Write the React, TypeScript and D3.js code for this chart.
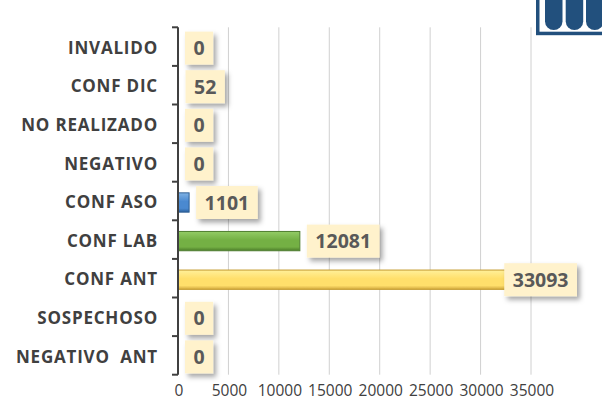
import React, { useRef, useEffect } from "react";
import * as d3 from "d3";

const categories = [
  "INVALIDO",
  "CONF DIC",
  "NO REALIZADO",
  "NEGATIVO",
  "CONF ASO",
  "CONF LAB",
  "CONF ANT",
  "SOSPECHOSO",
  "NEGATIVO  ANT",
];
const values = [0, 52, 0, 0, 1101, 12081, 33093, 0, 0];
const xTicks = [0, 5000, 10000, 15000, 20000, 25000, 30000, 35000];

// bar fills: [top, middle, bottom, edge]
const barColors = {
  "CONF DIC": ["#c9d6e3", "#9fb4c8", "#6f879e", "#6f879e"],
  "CONF ASO": ["#7fb2e5", "#4a89d0", "#2b619e", "#2e5f94"],
  "CONF LAB": ["#93cc66", "#74b044", "#4c7c2a", "#4f7e30"],
  "CONF ANT": ["#fff09a", "#ffdf6b", "#d2a93e", "#c49a2c"],
};

const App = () => {
  const svgRef = useRef<SVGSVGElement>(null);

  useEffect(() => {
    const width = 602;
    const height = 401;
    const plotTop = 27.3;
    const plotBottom = 374.7;

    const svg = d3.select(svgRef.current);
    svg.selectAll("*").remove();
    svg.attr("width", width).attr("height", height);

    const xScale = d3.scaleLinear().domain([0, 35000]).range([178, 531]);
    const yScale = d3
      .scaleBand()
      .domain(categories)
      .range([plotTop, plotBottom])
      .paddingInner(0.5)
      .paddingOuter(0.25);
    const step = yScale.step();

    const defs = svg.append("defs");
    const shadow = defs
      .append("filter")
      .attr("id", "shadow")
      .attr("x", "-30%")
      .attr("y", "-30%")
      .attr("width", "170%")
      .attr("height", "170%");
    shadow
      .append("feDropShadow")
      .attr("dx", 3)
      .attr("dy", 3.5)
      .attr("stdDeviation", 2.5)
      .attr("flood-color", "#000")
      .attr("flood-opacity", 0.35);

    Object.entries(barColors).forEach(([key, c], i) => {
      const g = defs
        .append("linearGradient")
        .attr("id", "grad" + i)
        .attr("x1", 0)
        .attr("y1", 0)
        .attr("x2", 0)
        .attr("y2", 1);
      g.append("stop").attr("offset", "0%").attr("stop-color", c[0]);
      g.append("stop").attr("offset", "45%").attr("stop-color", c[1]);
      g.append("stop").attr("offset", "80%").attr("stop-color", c[1]);
      g.append("stop").attr("offset", "100%").attr("stop-color", c[2]);
    });
    const gradId = (cat) => "url(#grad" + Object.keys(barColors).indexOf(cat) + ")";

    // vertical gridlines
    svg
      .append("g")
      .selectAll("line")
      .data(xTicks.slice(1))
      .enter()
      .append("line")
      .attr("x1", (d) => xScale(d))
      .attr("x2", (d) => xScale(d))
      .attr("y1", plotTop)
      .attr("y2", plotBottom)
      .attr("stroke", "#d0d0d0")
      .attr("stroke-width", 1);

    // x tick labels
    svg
      .append("g")
      .selectAll("text")
      .data(xTicks)
      .enter()
      .append("text")
      .attr("x", (d) => xScale(d) + 1)
      .attr("y", 396)
      .attr("text-anchor", "middle")
      .attr("font-family", "'Open Sans', sans-serif")
      .attr("font-size", 15.5)
      .attr("fill", "#404040")
      .text((d) => d);

    // bars
    svg
      .append("g")
      .selectAll("rect")
      .data(categories.filter((c, i) => values[i] > 0))
      .enter()
      .append("rect")
      .attr("x", xScale(0))
      .attr("y", (d) => yScale(d) + 1.5)
      .attr("width", (d) => xScale(values[categories.indexOf(d)]) - xScale(0))
      .attr("height", yScale.bandwidth())
      .attr("fill", (d) => gradId(d))
      .attr("stroke", (d) => barColors[d][3])
      .attr("stroke-width", 1);

    // y axis line and ticks
    const axis = svg.append("g").attr("stroke", "#404040").attr("stroke-width", 2);
    axis
      .append("line")
      .attr("x1", 178)
      .attr("x2", 178)
      .attr("y1", plotTop)
      .attr("y2", plotBottom);
    axis
      .selectAll("line.tick")
      .data(d3.range(categories.length + 1))
      .enter()
      .append("line")
      .attr("class", "tick")
      .attr("x1", 172)
      .attr("x2", 178)
      .attr("y1", (i) => plotTop + i * step)
      .attr("y2", (i) => plotTop + i * step);

    // category labels
    svg
      .append("g")
      .selectAll("text")
      .data(categories)
      .enter()
      .append("text")
      .attr("x", 158)
      .attr("y", (d) => yScale(d) + yScale.bandwidth() / 2 + 1)
      .attr("dy", "0.36em")
      .attr("text-anchor", "end")
      .attr("font-family", "'Open Sans', sans-serif")
      .attr("font-weight", "bold")
      .attr("font-size", 17)
      .attr("letter-spacing", 0.8)
      .attr("fill", "#404040")
      .style("white-space", "pre")
      .text((d) => d);

    // data labels in callout boxes
    const labels = svg
      .append("g")
      .selectAll("g")
      .data(categories)
      .enter()
      .append("g");
    labels.each(function (d, i) {
      const g = d3.select(this);
      const cy = yScale(d) + yScale.bandwidth() / 2 + 1.5;
      const t = g
        .append("text")
        .attr("font-family", "'Open Sans', sans-serif")
        .attr("font-weight", "bold")
        .attr("font-size", 19.5)
        .attr("fill", "#595959")
        .attr("text-anchor", "middle")
        .attr("dy", "0.36em")
        .text(values[i]);
      const tw = (t.node() as SVGTextElement).getComputedTextLength();
      const bw = tw + 17;
      const bh = 33;
      let bx = xScale(values[i]) + 7;
      if (bx + bw > 577) bx = 577 - bw;
      g.insert("rect", "text")
        .attr("x", bx)
        .attr("y", cy - bh / 2)
        .attr("width", bw)
        .attr("height", bh)
        .attr("fill", "#fff2cc")
        .attr("filter", "url(#shadow)");
      t.attr("x", bx + bw / 2).attr("y", cy);
    });

    // logo in the top right corner
    const logo = svg.append("g").attr("fill", "#22507d");
    logo.append("rect").attr("x", 536).attr("y", 0).attr("width", 3.5).attr("height", 35);
    logo.append("rect").attr("x", 536).attr("y", 31.7).attr("width", 70).attr("height", 3.5);
    [545, 565.7, 586].forEach((x) => {
      const w = 17.5;
      const r = w / 2;
      logo
        .append("path")
        .attr(
          "d",
          `M${x},-2 L${x + w},-2 L${x + w},${30 - r} A${r},${r} 0 0 1 ${x},${30 - r} Z`
        );
    });
  }, []);

  return (
    <svg ref={svgRef} style={{ position: "absolute", left: 0, top: 0 }}></svg>
  );
};

export default App;
